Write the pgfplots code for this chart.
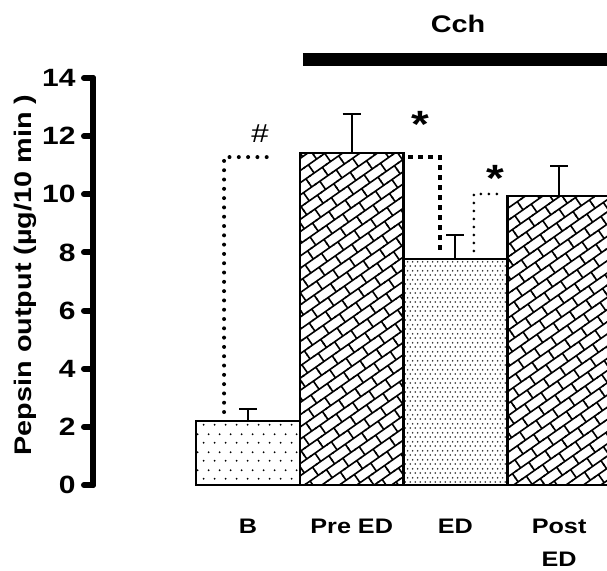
\documentclass[border=0pt]{standalone}
\usepackage{fontspec}
\setmainfont{Liberation Sans}[FakeStretch=1.2]
\usepackage{pgfplots}
\pgfplotsset{compat=1.18}
\usetikzlibrary{patterns.meta}

% fill patterns of the bars
\tikzdeclarepattern{
  name=sparsedots, type=uncolored,
  bottom left={(0pt,0pt)}, top right={(10.6pt,17.4pt)},
  tile size={(10.6pt,17.4pt)},
  code={\fill (2.65pt,4.35pt) circle (1.05pt); \fill (7.95pt,13.05pt) circle (1.05pt);}
}
\tikzdeclarepattern{
  name=densedots, type=uncolored,
  bottom left={(0pt,0pt)}, top right={(5.4pt,8.6pt)},
  tile size={(5.4pt,8.6pt)},
  code={\fill (1.35pt,2.15pt) circle (0.95pt); \fill (4.05pt,6.45pt) circle (0.95pt);}
}
\tikzdeclarepattern{
  name=bricks, type=uncolored,
  bottom left={(-1pt,-1pt)}, top right={(21pt,21pt)},
  tile size={(20pt,20pt)},
  tile transformation={rotate=35},
  code={
    \draw[line width=1.6pt] (-1pt,5pt) -- (21pt,5pt) (-1pt,15pt) -- (21pt,15pt)
      (5pt,5pt) -- (5pt,15pt) (15pt,15pt) -- (15pt,21pt) (15pt,-1pt) -- (15pt,5pt);
  }
}

\begin{document}
\begin{tikzpicture}
\begin{axis}[
  scale only axis, width=514pt, height=407pt,
  xmin=-1.495, xmax=3.462, ymin=0, ymax=14,
  clip=false,
  axis y line*=left, axis x line*=bottom,
  x axis line style={draw=none},
  y axis line style={line width=6pt, line cap=round},
  xtick={0,1,2,3}, xticklabels={B, Pre ED, ED, Post\\ED},
  xtick style={draw=none},
  xticklabel style={font=\bfseries\fontsize{21}{33}\selectfont, align=center, yshift=-22pt},
  ytick={0,2,...,14},
  ytick style={line width=6pt, line cap=round, black},
  major tick length=9pt, tick align=outside,
  yticklabel style={font=\bfseries\fontsize{25}{28}\selectfont, xshift=-5pt},
  /pgf/number format/assume math mode=true,
  every axis y label/.style={at={(axis description cs:0,0.516)}, rotate=90, anchor=center, yshift=68pt,
    font=\bfseries\fontsize{24}{28}\selectfont},
  ylabel={Pepsin output  (µg/10 min )},
  errs/.style={error bars/.cd, y dir=plus, y explicit,
    error bar style={line width=2pt, black},
    error mark options={rotate=90, mark size=9pt, line width=2pt, black}},
]
% B
\addplot[ybar, bar width=1, mark=none, draw=black, line width=2.5pt, fill=white,
  postaction={pattern=sparsedots}, errs] coordinates {(0,2.2) +- (0,0.41)};
% Pre ED
\addplot[ybar, bar width=1, mark=none, draw=black, line width=2.5pt, fill=white,
  postaction={pattern=bricks}, errs] coordinates {(1,11.42) +- (0,1.34)};
% ED
\addplot[ybar, bar width=1, mark=none, draw=black, line width=2.5pt, fill=white,
  postaction={pattern=densedots, pattern color=black!85}, errs] coordinates {(2,7.77) +- (0,0.83)};
% Post ED
\addplot[ybar, bar width=1, mark=none, draw=black, line width=2.5pt, fill=white,
  postaction={pattern=bricks}, errs] coordinates {(3,9.94) +- (0,1.03)};

% significance brackets
\draw[line width=4pt, line cap=round, dash pattern=on 0pt off 9.3pt]
  (-0.231,2.51) -- (-0.231,11.28) -- (0.26,11.28);
\node[font=\fontsize{26}{28}\selectfont] at (0.116,12.07) {\#};
\draw[line width=4.5pt, line cap=butt, dash pattern=on 4.5pt off 5.5pt]
  (1.543,11.28) -- (1.851,11.28) -- (1.851,8.0);
\node[font=\bfseries\fontsize{38}{40}\selectfont, anchor=base] at (1.659,11.95) {*};
\draw[line width=3pt, line cap=round, dash pattern=on 0pt off 8pt]
  (2.179,8.05) -- (2.179,10.01) -- (2.43,10.01);
\node[font=\bfseries\fontsize{38}{40}\selectfont, anchor=base] at (2.39,10.1) {*};

% Cch period
\draw[line width=13pt] (0.53,14.65) -- (3.6,14.65);
\node[font=\bfseries\fontsize{24}{26}\selectfont] at (2.025,15.86) {Cch};
\end{axis}
\pgfresetboundingbox
\path[use as bounding box] ([shift={(-93pt,-85pt)}]current axis.south west)
  rectangle ([shift={(0pt,78pt)}]current axis.north east);
\end{tikzpicture}
\end{document}
